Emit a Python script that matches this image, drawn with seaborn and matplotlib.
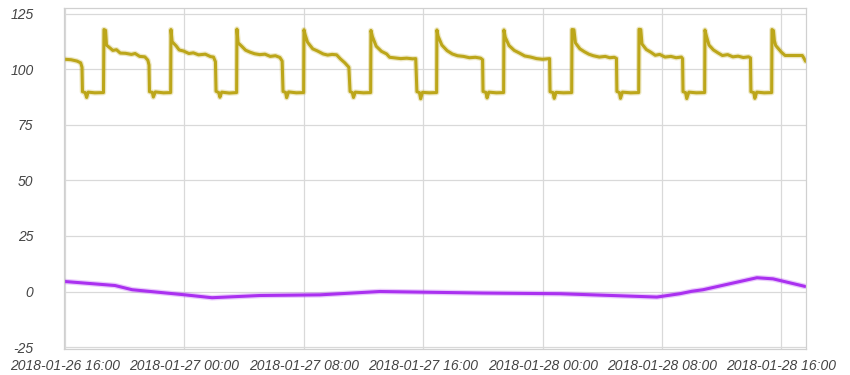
import matplotlib
matplotlib.use("Agg")
import matplotlib.pyplot as plt
import matplotlib.dates as mdates
import matplotlib.patheffects as pe
import pandas as pd
import seaborn as sns

# ---- data (hours after 2018-01-26 16:00) ----
start_time = "2018-01-26 16:00"

olive_hours = [
    0.00, 0.40, 0.80, 1.05, 1.14, 1.17, 1.35, 1.45, 1.55, 2.00, 2.58,
    2.61, 2.72, 2.78, 3.05, 3.20, 3.45, 3.70, 4.05, 4.45, 4.70, 5.00, 5.35, 5.55, 5.63, 5.66, 5.85, 5.92, 6.05, 6.60, 7.08,
    7.10, 7.18, 7.45, 7.65, 7.95, 8.30, 8.60, 8.95, 9.40, 9.75, 9.95, 10.08, 10.12, 10.30, 10.38, 10.50, 11.00, 11.50,
    11.52, 11.60, 11.85, 12.10, 12.40, 12.70, 13.05, 13.40, 13.75, 14.10, 14.40, 14.55, 14.61, 14.78, 14.85, 14.98, 15.50, 15.99,
    16.01, 16.10, 16.25, 16.60, 16.90, 17.30, 17.60, 17.90, 18.20, 18.45, 18.75, 19.02, 19.10, 19.25, 19.33, 19.45, 20.00, 20.48,
    20.50, 20.60, 20.85, 21.20, 21.55, 21.75, 22.10, 22.50, 22.90, 23.30, 23.50, 23.58, 23.75, 23.83, 23.95, 24.40, 24.90,
    24.92, 25.00, 25.25, 25.60, 25.95, 26.30, 26.70, 27.10, 27.50, 27.85, 27.98, 28.01, 28.20, 28.28, 28.40, 28.90, 29.39,
    29.41, 29.50, 29.75, 30.10, 30.45, 30.80, 31.20, 31.60, 32.00, 32.35, 32.47, 32.50, 32.70, 32.78, 32.90, 33.40, 33.95,
    33.97, 34.10, 34.20, 34.50, 34.80, 35.10, 35.40, 35.80, 36.20, 36.50, 36.80, 36.95, 36.98, 37.15, 37.22, 37.35, 37.90, 38.44,
    38.46, 38.58, 38.66, 38.95, 39.25, 39.55, 39.85, 40.20, 40.60, 40.95, 41.30, 41.38, 41.41, 41.58, 41.66, 41.80, 42.30, 42.86,
    42.88, 42.98, 43.15, 43.45, 43.75, 44.05, 44.40, 44.75, 45.10, 45.45, 45.80, 45.93, 45.96, 46.15, 46.22, 46.35, 46.85, 47.35,
    47.37, 47.47, 47.53, 47.62, 48.00, 48.25, 48.80, 49.40, 49.52, 49.62,
]
olive_values = [
    104.6, 104.4, 103.8, 103.0, 101.0, 90.0, 89.6, 87.4, 89.8, 89.5, 89.6,
    118.0, 117.6, 111.0, 109.5, 108.6, 108.9, 107.4, 107.3, 106.8, 107.2, 105.9, 105.7, 104.2, 102.0, 90.0, 89.7, 87.6, 89.9, 89.5, 89.6,
    118.0, 112.5, 110.6, 108.8, 108.3, 107.2, 107.5, 106.6, 106.9, 105.8, 105.6, 103.5, 90.2, 89.6, 87.5, 89.8, 89.4, 89.6,
    118.2, 112.0, 110.4, 108.7, 107.8, 107.1, 106.7, 106.9, 105.9, 106.2, 105.4, 103.8, 90.1, 89.7, 87.3, 89.9, 89.5, 89.6,
    117.9, 115.5, 112.3, 109.3, 108.4, 107.0, 106.5, 106.8, 106.6, 104.8, 103.0, 101.0, 90.1, 89.6, 87.4, 89.8, 89.5, 89.6,
    117.6, 114.8, 110.5, 108.2, 107.0, 105.5, 105.2, 104.9, 105.1, 104.8, 104.9, 90.0, 89.6, 86.8, 89.7, 89.5, 89.6,
    117.8, 115.0, 111.0, 108.5, 107.0, 106.2, 105.9, 105.3, 105.5, 105.1, 104.4, 90.1, 89.7, 87.2, 89.8, 89.5, 89.6,
    117.8, 114.5, 110.8, 108.6, 107.4, 106.1, 105.6, 104.9, 104.6, 104.8, 104.9, 90.0, 89.6, 87.0, 89.7, 89.5, 89.6,
    118.0, 117.9, 112.0, 109.3, 108.0, 106.9, 106.2, 105.6, 105.9, 105.3, 105.5, 105.0, 90.1, 89.6, 87.0, 89.8, 89.5, 89.6,
    118.1, 118.0, 111.5, 109.0, 107.8, 106.4, 106.8, 105.6, 105.9, 105.3, 105.6, 104.9, 90.0, 89.6, 86.9, 89.8, 89.5, 89.6,
    117.8, 115.0, 111.0, 108.8, 107.5, 106.3, 106.7, 105.7, 106.0, 105.4, 105.7, 105.2, 90.0, 89.6, 87.0, 89.8, 89.5, 89.6,
    118.0, 117.5, 113.0, 110.8, 107.8, 106.3, 106.3, 106.3, 105.0, 103.7,
]

purple_hours = [0.0, 3.35, 4.5, 8.04, 9.85, 13.07, 17.09, 18.43, 21.1, 24.0,
                28.0, 33.17, 39.66, 41.2, 42.0, 42.75, 44.35, 46.36, 47.44, 49.58]
purple_values = [4.5, 2.7, 0.8, -1.5, -2.8, -1.8, -1.5, -1.0, 0.0, -0.3,
                 -0.7, -1.0, -2.5, -1.0, 0.1, 0.8, 3.2, 6.2, 5.7, 2.3]

y_ticks = [-25, 0, 25, 50, 75, 100, 125]

# ---- build frames ----
t0 = pd.Timestamp(start_time)
olive_df = pd.DataFrame({"time": t0 + pd.to_timedelta(olive_hours, unit="h"),
                         "value": olive_values})
purple_df = pd.DataFrame({"time": t0 + pd.to_timedelta(purple_hours, unit="h"),
                          "value": purple_values})

sns.set_style("white")
plt.rcParams["font.family"] = ["Liberation Sans", "DejaVu Sans"]

fig = plt.figure(figsize=(8.5, 3.75), dpi=100)
ax = fig.add_axes([64 / 850, 1 - 349 / 375, (806 - 64) / 850, (349 - 8) / 375])

olive = "#BCA61A"
purple = "#AA30F0"
olive_fx = [pe.Stroke(linewidth=4.0, foreground=olive, alpha=0.25), pe.Normal()]
purple_fx = [pe.Stroke(linewidth=4.0, foreground=purple, alpha=0.25), pe.Normal()]

sns.lineplot(data=olive_df, x="time", y="value", ax=ax, color=olive, lw=2.2,
             path_effects=olive_fx, estimator=None, sort=False)
sns.lineplot(data=purple_df, x="time", y="value", ax=ax, color=purple, lw=2.2,
             path_effects=purple_fx, estimator=None, sort=False)

ax.set_xlim(t0 + pd.Timedelta(hours=-0.067), t0 + pd.Timedelta(hours=49.65))
ax.set_ylim(-25.9, 127.7)
ax.set_yticks(y_ticks)
ax.set_yticklabels([str(v) for v in y_ticks])
ax.xaxis.set_major_locator(mdates.HourLocator(byhour=[0, 8, 16]))
ax.xaxis.set_major_formatter(mdates.DateFormatter("%Y-%m-%d %H:%M"))

ax.grid(True, color="#d9d9d9", lw=0.9)
ax.set_axisbelow(True)
for s in ax.spines.values():
    s.set_color("#d0d0d0")
    s.set_linewidth(0.9)

ax.tick_params(axis="both", length=0, colors="#444444", labelsize=10)
ax.tick_params(axis="y", pad=22)
ax.tick_params(axis="x", pad=7.5)
for lab in ax.get_xticklabels() + ax.get_yticklabels():
    lab.set_fontstyle("italic")
    lab.set_color("#444444")

ax.set_xlabel("")
ax.set_ylabel("")
if ax.get_legend():
    ax.get_legend().remove()

fig.savefig("out.png", dpi=100)
